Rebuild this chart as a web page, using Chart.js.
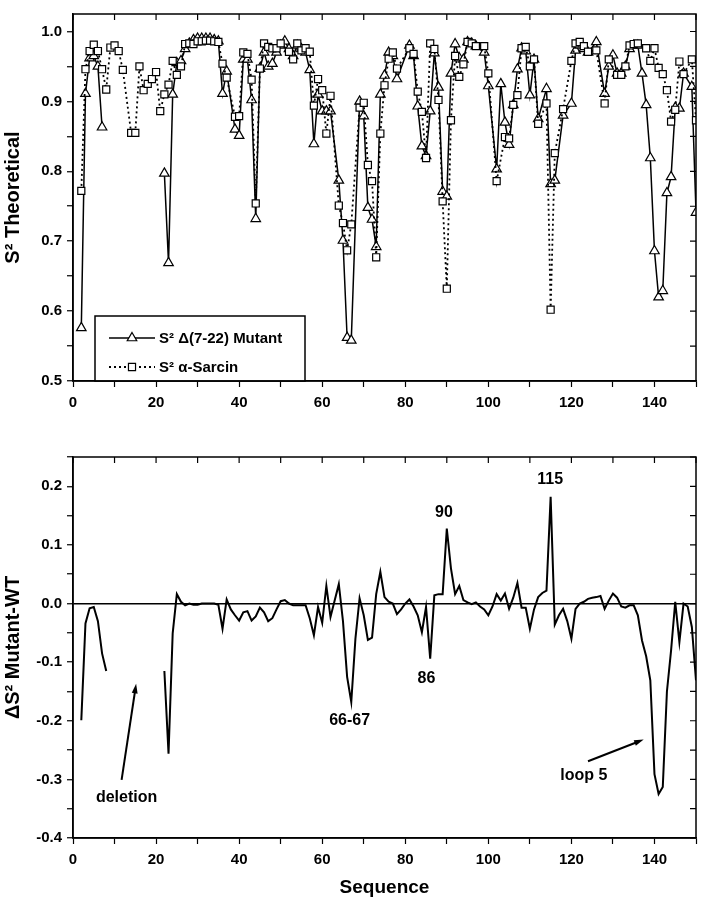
<!DOCTYPE html>
<html lang="en">
<head>
<meta charset="utf-8">
<title>S2 teórico: mutante Δ(7-22) y α-sarcina</title>
<script src="https://cdn.jsdelivr.net/npm/chart.js@4.4.1/dist/chart.umd.min.js"></script>
<style>
    html, body { margin: 0; padding: 0; background: #fff; }
    #lienzo_sup { position: absolute; left: 0; top: 0; }
    #lienzo_inf { position: absolute; left: 0; top: 420px; }
</style>
</head>
<body>
<canvas id="lienzo_sup" width="703" height="420"></canvas>
<canvas id="lienzo_inf" width="703" height="479"></canvas>
<script>
/* Datos (residuo, S2) */

// Panel superior: S2 de la α-sarcina (cuadrados, punteado)
const seqSarcina = [2,3,4,5,6,7,8,9,10,11,12,14,15,16,17,18,19,20,21,22,23,24,25,26,27,28,29,30,31,32,33,34,35,36,37,
    39,40,41,42,43,44,45,46,47,48,49,50,52,53,54,55,56,57,58,59,60,61,62,64,65,66,67,69,70,71,72,73,74,75,76,77,78,
    81,82,83,84,85,86,87,88,89,90,91,92,93,94,95,96,97,99,100,102,104,105,106,107,108,109,110,111,112,114,115,116,118,
    120,121,122,123,124,126,128,129,131,132,133,134,135,136,138,139,140,141,142,143,144,145,146,147,149,150];
const s2Sarcina = [0.772,0.946,0.972,0.981,0.972,0.946,0.917,0.977,0.980,0.972,0.945,0.855,0.855,0.950,0.916,0.925,0.932,0.942,0.886,0.910,0.924,0.958,0.938,0.950,0.982,0.983,0.982,0.986,0.986,0.987,0.987,0.986,0.985,0.954,0.934,
    0.878,0.879,0.970,0.968,0.931,0.754,0.947,0.983,0.978,0.976,0.976,0.983,0.971,0.960,0.983,0.973,0.976,0.971,0.894,0.932,0.916,0.854,0.908,0.751,0.726,0.687,0.724,0.891,0.898,0.809,0.786,0.677,0.854,0.923,0.961,0.970,0.947,
    0.976,0.968,0.914,0.885,0.819,0.983,0.975,0.902,0.757,0.632,0.873,0.965,0.935,0.953,0.985,0.983,0.979,0.979,0.940,0.786,0.849,0.847,0.895,0.909,0.976,0.978,0.950,0.960,0.868,0.897,0.602,0.826,0.889,
    0.958,0.983,0.985,0.979,0.971,0.973,0.897,0.960,0.938,0.938,0.950,0.980,0.982,0.983,0.976,0.958,0.976,0.948,0.939,0.916,0.871,0.888,0.957,0.939,0.960,0.873];

// Panel superior: S2 del mutante Δ(7-22) (triángulos, continuo)
const seqMutante = [2,3,4,5,6,7,22,23,24,25,26,27,28,29,30,31,32,33,34,35,36,37,39,40,41,42,43,44,45,46,47,48,49,50,51,52,53,54,55,56,57,58,59,60,61,62,
    64,65,66,67,69,70,71,72,73,74,75,76,77,78,81,82,83,84,85,86,87,88,89,90,91,92,93,94,95,96,97,99,100,102,103,104,105,106,107,108,109,110,111,112,
    114,115,116,118,120,121,122,123,124,126,128,129,130,131,132,133,134,135,136,137,138,139,140,141,142,143,144,145,146,147,149,150];
const s2Mutante = [0.576,0.911,0.962,0.965,0.950,0.863,0.797,0.669,0.910,0.955,0.958,0.975,0.983,0.988,0.990,0.990,0.990,0.990,0.988,0.986,0.911,0.943,0.860,0.851,0.960,0.960,0.902,0.732,0.947,0.970,0.950,0.954,0.970,0.980,0.986,0.975,0.965,0.980,0.975,0.970,0.945,0.839,0.910,0.886,0.886,0.886,
    0.787,0.701,0.562,0.558,0.900,0.879,0.748,0.731,0.692,0.910,0.937,0.970,0.965,0.932,0.980,0.965,0.893,0.836,0.822,0.886,0.969,0.920,0.771,0.764,0.940,0.982,0.962,0.960,0.985,0.983,0.979,0.970,0.922,0.803,0.925,0.870,0.838,0.895,0.946,0.976,0.972,0.909,0.960,0.875,
    0.918,0.782,0.787,0.880,0.897,0.973,0.980,0.975,0.970,0.985,0.911,0.950,0.966,0.940,0.940,0.950,0.975,0.980,0.980,0.940,0.895,0.819,0.686,0.620,0.629,0.769,0.792,0.891,0.890,0.940,0.921,0.741];

// Panel inferior: ΔS2 (mutante - silvestre)
const seqDif = [2,3,4,5,6,7,8,22,23,24,25,26,27,28,29,30,31,32,33,34,35,36,37,38,39,40,41,42,43,44,45,46,47,48,49,50,51,52,53,54,55,56,57,58,59,60,
    61,62,63,64,65,66,67,68,69,70,71,72,73,74,75,76,77,78,79,80,81,82,83,84,85,86,87,88,89,90,91,92,93,94,95,96,97,98,99,100,
    101,102,103,104,105,106,107,108,109,110,111,112,113,114,115,116,117,118,119,120,121,122,123,124,125,126,127,128,129,130,
    131,132,133,134,135,136,137,138,139,140,141,142,143,144,145,146,147,148,149,150];
const difS2 = [-0.199,-0.034,-0.008,-0.006,-0.030,-0.085,-0.115,-0.115,-0.256,-0.051,0.016,0.003,-0.003,0.000,-0.002,-0.002,0.000,0.000,0.000,0.000,-0.002,-0.043,0.007,-0.010,-0.020,-0.029,-0.015,-0.013,-0.029,-0.022,-0.007,-0.015,-0.030,-0.025,-0.010,0.004,0.006,0.000,-0.003,-0.003,-0.003,-0.003,-0.025,-0.054,-0.006,-0.033,
    0.030,-0.023,0.005,0.033,-0.030,-0.125,-0.168,-0.060,0.009,-0.020,-0.062,-0.058,0.016,0.054,0.011,0.003,0.000,-0.018,-0.010,0.000,0.007,-0.005,-0.020,-0.049,-0.006,-0.094,0.014,0.016,0.016,0.128,0.060,0.016,0.030,0.006,0.002,-0.001,0.002,-0.005,-0.010,-0.020,
    -0.005,0.016,0.005,0.017,-0.009,0.010,0.035,-0.007,-0.007,-0.043,-0.010,0.011,0.018,0.022,0.182,-0.036,-0.020,-0.009,-0.030,-0.060,-0.009,0.000,0.003,0.008,0.010,0.011,0.013,-0.009,0.005,0.017,
    0.010,-0.005,-0.007,-0.003,-0.003,-0.020,-0.063,-0.090,-0.131,-0.291,-0.325,-0.313,-0.150,-0.080,0.003,-0.066,0.000,-0.005,-0.040,-0.131];

// Etiquetas del panel inferior (en unidades de datos)
const etiquetasDif = [
    { texto: 'deletion', x: 12.9, y: -0.331 },
    { texto: '66-67', x: 66.6, y: -0.199 },
    { texto: '86', x: 85.1, y: -0.128 },
    { texto: '90', x: 89.3, y: 0.155 },
    { texto: '115', x: 114.9, y: 0.212 },
    { texto: 'loop 5', x: 123, y: -0.293 }
];
const flechasDif = [
    { desde: [11.7, -0.301], hasta: [15.2, -0.137] },
    { desde: [124.0, -0.269], hasta: [137.4, -0.232] }
];

const FUENTE = "'Liberation Sans', Arial, Helvetica, sans-serif";
Chart.defaults.font.family = FUENTE;
Chart.defaults.color = '#000';

const pasoMultiplo = (v, paso) => Math.abs(v / paso - Math.round(v / paso)) < 1e-6;

/** Marco completo con marcas hacia dentro arriba y a la derecha */
const marcoEjes = {
    id: 'marcoEjes',
    afterDraw(chart) {
        const { ctx, chartArea: a, scales: { x, y } } = chart;
        ctx.save();
        ctx.strokeStyle = '#000';
        ctx.lineWidth = 1.5;
        ctx.strokeRect(a.left, a.top, a.right - a.left, a.bottom - a.top);
        ctx.lineWidth = 1.2;
        ctx.beginPath();
        x.ticks.forEach(t => { const px = x.getPixelForValue(t.value); ctx.moveTo(px, a.top); ctx.lineTo(px, a.top + 6); });
        y.ticks.forEach(t => { const py = y.getPixelForValue(t.value); ctx.moveTo(a.right, py); ctx.lineTo(a.right - 6, py); });
        ctx.stroke();
        ctx.restore();
    }
};

/** Recuadro de leyenda abajo a la izquierda del panel superior */
const leyendaRecuadro = {
    id: 'leyendaRecuadro',
    afterDatasetsDraw(chart) {
        const { ctx, chartArea: a } = chart;
        const x0 = a.left + 22, w = 210, h = 65, y0 = a.bottom - h;
        ctx.save();
        ctx.fillStyle = '#fff';
        ctx.fillRect(x0, y0, w, h);
        ctx.strokeStyle = '#000';
        ctx.lineWidth = 1.5;
        ctx.strokeRect(x0, y0, w, h);
        const items = [chart.data.datasets[1], chart.data.datasets[0]];
        items.forEach((ds, i) => {
            const yy = y0 + 22 + i * 29;
            ctx.strokeStyle = '#000';
            ctx.lineWidth = ds.borderWidth;
            ctx.setLineDash(ds.borderDash || []);
            ctx.beginPath(); ctx.moveTo(x0 + 14, yy); ctx.lineTo(x0 + 60, yy); ctx.stroke();
            ctx.setLineDash([]);
            ctx.fillStyle = '#fff';
            ctx.lineWidth = ds.pointBorderWidth;
            Chart.helpers.drawPoint(ctx, { pointStyle: ds.pointStyle, radius: ds.pointRadius, borderWidth: ds.pointBorderWidth, rotation: 0 }, x0 + 37, yy);
            ctx.fillStyle = '#000';
            ctx.font = 'bold 15px ' + FUENTE;
            ctx.textBaseline = 'middle';
            ctx.textAlign = 'left';
            ctx.fillText(ds.label, x0 + 64, yy + 1);
        });
        ctx.restore();
    }
};

/** Textos y flechas del panel inferior */
const notasDif = {
    id: 'notasDif',
    afterDatasetsDraw(chart) {
        const { ctx, scales: { x, y } } = chart;
        ctx.save();
        ctx.fillStyle = '#000';
        ctx.font = 'bold 16px ' + FUENTE;
        ctx.textAlign = 'center';
        ctx.textBaseline = 'middle';
        etiquetasDif.forEach(e => ctx.fillText(e.texto, x.getPixelForValue(e.x), y.getPixelForValue(e.y)));
        ctx.strokeStyle = '#000';
        ctx.lineWidth = 2;
        flechasDif.forEach(f => {
            const x1 = x.getPixelForValue(f.desde[0]), y1 = y.getPixelForValue(f.desde[1]);
            const x2 = x.getPixelForValue(f.hasta[0]), y2 = y.getPixelForValue(f.hasta[1]);
            const ang = Math.atan2(y2 - y1, x2 - x1);
            ctx.beginPath(); ctx.moveTo(x1, y1); ctx.lineTo(x2 - 6 * Math.cos(ang), y2 - 6 * Math.sin(ang)); ctx.stroke();
            ctx.beginPath();
            ctx.moveTo(x2, y2);
            ctx.lineTo(x2 - 10 * Math.cos(ang - 0.3), y2 - 10 * Math.sin(ang - 0.3));
            ctx.lineTo(x2 - 10 * Math.cos(ang + 0.3), y2 - 10 * Math.sin(ang + 0.3));
            ctx.closePath(); ctx.fill();
        });
        ctx.restore();
    }
};

const ejeX = (conTitulo, alto) => ({
    type: 'linear', min: 0, max: 150,
    afterFit: s => { s.height = alto; },
    ticks: { stepSize: 10, autoSkip: false, maxRotation: 0, padding: 7, font: { size: 15, weight: 'bold' },
             callback: v => (pasoMultiplo(v, 20) ? String(v) : '') },
    grid: { drawOnChartArea: false, drawTicks: true, tickLength: 6, tickColor: '#000', tickWidth: 1.2 },
    border: { display: true, color: '#000', width: 1.5 },
    title: { display: conTitulo, text: 'Sequence', font: { size: 19, weight: 'bold' }, padding: { top: 0, bottom: 0 } }
});

const ejeY = (min, max, titulo, lineaCero) => ({
    type: 'linear', min, max,
    afterFit: s => { s.width = 73; },
    afterBuildTicks: s => { s.ticks = s.ticks.filter(t => pasoMultiplo(t.value, 0.05)); },
    ticks: { stepSize: 0.05, autoSkip: false, padding: 5, font: { size: 15, weight: 'bold' },
             callback: v => (pasoMultiplo(v, 0.1) ? v.toFixed(1) : '') },
    grid: {
        drawOnChartArea: lineaCero, drawTicks: true, tickLength: 6, tickColor: '#000', tickWidth: 1.2,
        color: ctx => (lineaCero && ctx.tick && Math.abs(ctx.tick.value) < 1e-9 ? '#000' : 'rgba(0,0,0,0)'),
        lineWidth: 1.5
    },
    border: { display: true, color: '#000', width: 1.5 },
    title: { display: true, text: titulo, font: { size: 20, weight: 'bold' }, padding: { top: 1, bottom: 0 } }
});

// Panel superior
new Chart(document.getElementById('lienzo_sup'), {
    type: 'line',
    data: {
        datasets: [
            { label: 'S² α-Sarcin', data: seqSarcina.map((r, i) => ({ x: r, y: s2Sarcina[i] })),
              borderColor: '#000', borderWidth: 1.8, borderDash: [2, 3], backgroundColor: '#fff',
              pointStyle: 'rect', pointRadius: 5, pointBorderWidth: 1.2, pointBackgroundColor: '#fff', pointBorderColor: '#000',
              spanGaps: true, tension: 0 },
            { label: 'S² Δ(7-22) Mutant', data: seqMutante.map((r, i) => ({ x: r, y: s2Mutante[i] })),
              borderColor: '#000', borderWidth: 1.5, backgroundColor: '#fff',
              pointStyle: 'triangle', pointRadius: 5.5, pointBorderWidth: 1.2, pointBackgroundColor: '#fff', pointBorderColor: '#000',
              spanGaps: 5, tension: 0 }
        ]
    },
    options: {
        responsive: false, animation: false,
        layout: { padding: { top: 2, right: 5, left: 0, bottom: 0 } },
        plugins: { legend: { display: false }, tooltip: { enabled: false } },
        scales: { x: ejeX(false, 39), y: ejeY(0.5, 1.025, 'S² Theoretical', false) }
    },
    plugins: [marcoEjes, leyendaRecuadro]
});

// Panel inferior
new Chart(document.getElementById('lienzo_inf'), {
    type: 'line',
    data: {
        datasets: [
            { label: 'ΔS² Mutant-WT', data: seqDif.map((r, i) => ({ x: r, y: difS2[i] })),
              borderColor: '#000', borderWidth: 2, pointRadius: 0, spanGaps: 5, tension: 0 }
        ]
    },
    options: {
        responsive: false, animation: false,
        layout: { padding: { top: 37, right: 5, left: 0, bottom: 0 } },
        plugins: { legend: { display: false }, tooltip: { enabled: false } },
        scales: { x: ejeX(true, 61), y: ejeY(-0.4, 0.25, 'ΔS² Mutant-WT', true) }
    },
    plugins: [marcoEjes, notasDif]
});
</script>
</body>
</html>
